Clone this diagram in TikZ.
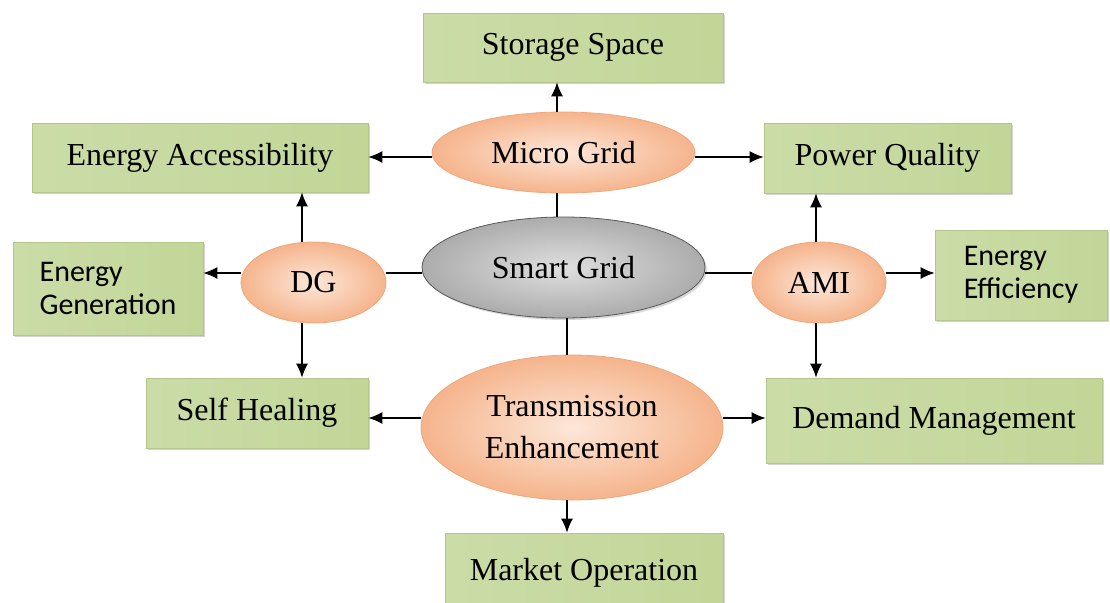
\documentclass[tikz,border=0pt]{standalone}
\usepackage{fontspec}
\setmainfont{Liberation Serif}
\newfontfamily\boxsans{Carlito}
\usepackage{xcolor}
\usepackage{tikz}
\usetikzlibrary{shadows}
\usetikzlibrary{arrows.meta}
\usetikzlibrary{shapes}

\definecolor{boxgreen}{HTML}{C2D698}
\definecolor{boxlight}{HTML}{EFF4E4}
\definecolor{boxedge}{HTML}{B3C78C}
\definecolor{peach}{HTML}{F5B48C}
\definecolor{peachlight}{HTML}{FDE7D9}
\definecolor{peachedge}{HTML}{EDA77E}

\begin{document}
\begin{tikzpicture}[x=0.5pt, y=-0.5pt,
    >={Latex[length=7pt,width=6pt]},
    goal/.style={draw=boxedge, rectangle, left color=boxgreen!85, middle color=boxlight,
right color=boxgreen, drop shadow={shadow xshift=1.2pt, shadow yshift=-1.2pt,
opacity=0.35}, align=center, inner sep=0pt, font=\fontsize{16}{21}\selectfont},
    tech/.style={draw=peachedge, ellipse, inner color=peachlight, outer color=peach,
align=center, inner sep=0pt, font=\fontsize{16}{21}\selectfont},
    core/.style={draw=gray!70!black, ellipse, inner color=gray!25, outer color=gray!65,
drop shadow={shadow xshift=1pt, shadow yshift=-1pt, opacity=0.3},
align=center, inner sep=0pt, font=\fontsize{16}{21}\selectfont},
    link/.style={line width=0.65pt}]
\useasboundingbox (0,0) rectangle (1110,602);

\node[goal, minimum width=150pt, minimum height=34.5pt] (storage) at (573,47.5) {Storage Space};
\node[tech, minimum width=131.5pt, minimum height=40.5pt] (micro) at (563.5,152.5) {Micro Grid};
\node[goal, minimum width=168pt, minimum height=34.5pt] (access) at (200,157.5) {Energy Accessibility};
\node[goal, minimum width=123.5pt, minimum height=35pt] (quality) at (887.5,158) {Power Quality};
\node[core, minimum width=141.5pt, minimum height=50.5pt] (smart) at (563.5,267.5) {Smart Grid};
\node[tech, minimum width=72.5pt, minimum height=40.5pt] (dg) at (313.5,282.5) {DG};
\node[goal, minimum width=95pt, minimum height=46.5pt, align=left,
font=\boxsans\fontsize{15}{16.5}\selectfont] (gen) at (108,288.5) {Energy\\Generation};
\node[tech, minimum width=67pt, minimum height=40.5pt] (ami) at (819,282.5) {AMI};
\node[goal, minimum width=86pt, minimum height=45pt, align=left,
font=\boxsans\fontsize{15}{16.5}\selectfont] (eff) at (1021,275) {Energy\\Efficiency};
\node[goal, minimum width=111pt, minimum height=35pt] (heal) at (257,413) {Self Healing};
\node[tech, minimum width=151pt, minimum height=72.5pt] (trans) at (572,427.5)
{Transmission\\Enhancement};
\node[goal, minimum width=168pt, minimum height=42.5pt] (demand) at (934,420.5)
{Demand Management};
\node[goal, minimum width=139pt, minimum height=40pt] (market) at (584,573)
{\raisebox{3.25pt}{Market Operation}};

% Micro Grid
\draw[link, ->] ([xshift=-3.25pt]micro.north) -- ([xshift=-3.25pt]micro.north |- storage.south);
\draw[link, ->] ([yshift=-2.25pt]micro.west) -- ([yshift=-2.25pt]micro.west -| access.east);
\draw[link, ->] ([yshift=-2.25pt]micro.east) -- ([yshift=-2.25pt]micro.east -| quality.west);
\draw[link] ([xshift=-3.25pt]micro.south) -- ([xshift=-3.25pt]micro.south |- smart.north);
% DG
\draw[link, ->] ([xshift=-5.75pt]dg.north) -- ([xshift=-5.75pt]dg.north |- access.south);
\draw[link, ->] ([yshift=4.75pt]dg.west) -- ([yshift=4.75pt]dg.west -| gen.east);
\draw[link, ->] ([xshift=-5.75pt]dg.south) -- ([xshift=-5.75pt]dg.south |- heal.north);
\draw[link] ([yshift=4.75pt]dg.east) -- ([yshift=4.75pt]dg.east -| smart.west);
% AMI
\draw[link] ([yshift=4.75pt]ami.west) -- ([yshift=4.75pt]ami.west -| smart.east);
\draw[link, ->] ([xshift=-1.5pt]ami.north) -- ([xshift=-1.5pt]ami.north |- quality.south);
\draw[link, ->] ([yshift=4.75pt]ami.east) -- ([yshift=4.75pt]ami.east -| eff.west);
\draw[link, ->] ([xshift=-1.5pt]ami.south) -- ([xshift=-1.5pt]ami.south |- demand.north);
% Transmission
\draw[link] ([xshift=-2.5pt]trans.north) -- ([xshift=-2.5pt]trans.north |- smart.south);
\draw[link, ->] ([yshift=4.75pt]trans.west) -- ([yshift=4.75pt]trans.west -| heal.east);
\draw[link, ->] ([yshift=4.75pt]trans.east) -- ([yshift=4.75pt]trans.east -| demand.west);
\draw[link, ->] ([xshift=-2.5pt]trans.south) -- ([xshift=-2.5pt]trans.south |- market.north);
\end{tikzpicture}
\end{document}
